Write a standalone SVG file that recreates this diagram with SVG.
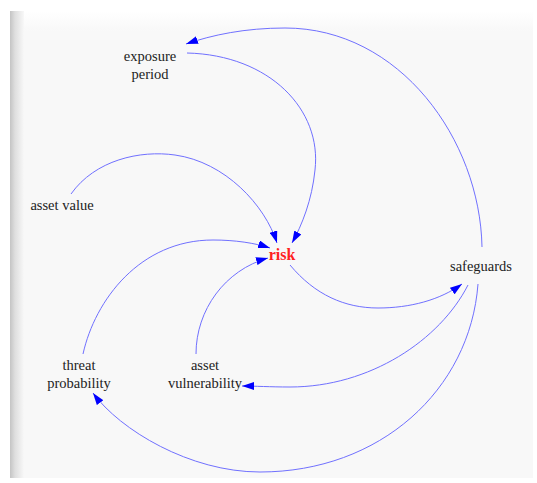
<svg xmlns="http://www.w3.org/2000/svg" width="537" height="483" viewBox="0 0 537 483">
<defs>
<linearGradient id="lshadow" x1="0" y1="0" x2="1" y2="0">
<stop offset="0" stop-color="#c4c4c4"/>
<stop offset="0.35" stop-color="#dedede"/>
<stop offset="1" stop-color="#f8f8f8"/>
</linearGradient>
<linearGradient id="tshadow" x1="0" y1="0" x2="0" y2="1">
<stop offset="0" stop-color="#ffffff"/>
<stop offset="1" stop-color="#f8f8f8"/>
</linearGradient>
<marker id="arr" viewBox="0 0 12 8" refX="12" refY="4" markerWidth="12" markerHeight="8" markerUnits="userSpaceOnUse" orient="auto">
<path d="M0,0 L12,4 L0,8 Z" fill="#0000ff"/>
</marker>
<style>
.lbl{font-family:'Liberation Serif','DejaVu Serif',serif;font-size:14.5px;fill:#222;text-anchor:middle}
.risk{font-family:'Liberation Serif','DejaVu Serif',serif;font-size:16px;font-weight:bold;fill:#ff2020;text-anchor:middle}
.link{fill:none;stroke:#7070ff;stroke-width:1;marker-end:url(#arr)}
</style>
</defs>
<rect x="0" y="0" width="537" height="483" fill="#ffffff"/>
<rect x="10" y="11" width="523" height="467" fill="#f8f8f8"/>
<rect x="10" y="11" width="523" height="20" fill="url(#tshadow)"/>
<rect x="10" y="11" width="14" height="467" fill="url(#lshadow)"/>
<g id="connectors">
<path class="link" d="M482,247 C480,140 400,28 285,28 C245,28 212,35 186,44"/>
<path class="link" d="M187,53 C270,55 322,110 315,170 C312,200 302,225 292,243"/>
<path class="link" d="M71,194 C95,160 140,150 175,155 C225,162 265,205 277,243"/>
<path class="link" d="M83,354 C95,300 140,240 213,240 C235,240 255,243 270,248"/>
<path class="link" d="M196,354 C196,310 225,270 268,258"/>
<path class="link" d="M290,265 C315,295 345,308 378,308 C410,308 440,300 462,284"/>
<path class="link" d="M468,285 C440,340 370,387 290,387 C270,387 255,386 242,386"/>
<path class="link" d="M478,284 C470,390 380,472 260,472 C190,472 120,430 93,393"/>
</g>
<g id="exposure-period"><text class="lbl" font-family="Liberation Serif, serif" x="150" y="61">exposure</text><text class="lbl" font-family="Liberation Serif, serif" x="150" y="79">period</text></g>
<g id="asset-value"><text class="lbl" font-family="Liberation Serif, serif" x="62" y="210">asset value</text></g>
<g id="risk"><text class="risk" font-family="Liberation Serif, serif" x="282" y="260">risk</text></g>
<g id="safeguards"><text class="lbl" font-family="Liberation Serif, serif" x="481" y="271">safeguards</text></g>
<g id="threat-probability"><text class="lbl" font-family="Liberation Serif, serif" x="79" y="370">threat</text><text class="lbl" font-family="Liberation Serif, serif" x="79" y="388">probability</text></g>
<g id="asset-vulnerability"><text class="lbl" font-family="Liberation Serif, serif" x="205" y="370">asset</text><text class="lbl" font-family="Liberation Serif, serif" x="205" y="388">vulnerability</text></g>
</svg>
